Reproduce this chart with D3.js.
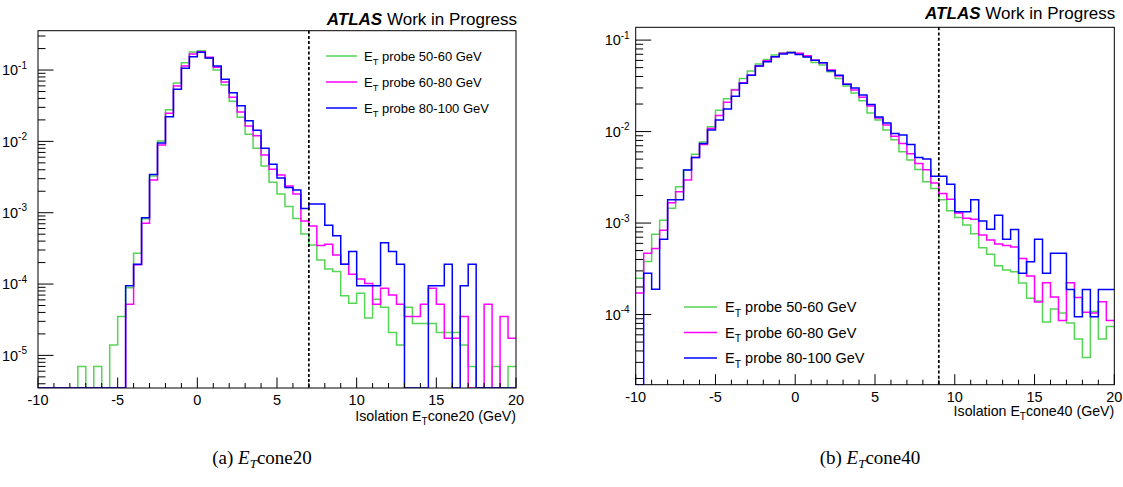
<!DOCTYPE html>
<html><head><meta charset="utf-8">
<script src="https://cdn.jsdelivr.net/npm/d3@7"></script>
<style>
body{margin:0;background:#fff}
svg{display:block}
text{font-family:"Liberation Sans",Arial,Helvetica,sans-serif;fill:#000}
</style>
</head><body>
<svg id="c" width="1123" height="487"></svg>
<script>
// ---------- data ----------
const binLow = d3.range(-10, 20, 0.5);   // 60 bins of 0.5 GeV
const binWidth = 0.5;
const seriesLabels = ["probe 50-60 GeV", "probe 60-80 GeV", "probe 80-100 GeV"];
const seriesColors = ["#55d455", "#ff00ff", "#0000ff"];
const xTickValues = [-10, -5, 0, 5, 10, 15, 20];

const cone20_50_60 = [0,0,0,0,0,7.0e-6,0,7.0e-6,0,1.4e-5,
  3.5e-5,8.9e-5,2.71e-4,8.2e-4,3.27e-3,1.01e-2,2.78e-2,6.58e-2,0.1265,0.1786,
  0.186,0.146,0.100,6.17e-2,3.65e-2,2.18e-2,1.26e-2,8.0e-3,4.52e-3,2.67e-3,
  1.83e-3,1.22e-3,8.3e-4,5.05e-4,3.54e-4,2.18e-4,1.63e-4,1.50e-4,6.84e-5,5.4e-5,
  7.46e-5,3.33e-5,6.14e-5,4.74e-5,2.1e-5,1.4e-5,4.74e-5,2.8e-5,2.8e-5,2.8e-5,
  2.1e-5,2.1e-5,2.1e-5,1.4e-5,7.0e-6,0,0,7.0e-6,0,7.0e-6];
const cone20_60_80 = [0,0,0,0,0,0,0,0,0,0,
  0,5.2e-5,1.86e-4,7.13e-4,2.88e-3,8.9e-3,2.48e-2,5.97e-2,0.1138,0.1675,
  0.180,0.151,0.109,6.79e-2,4.15e-2,2.58e-2,1.64e-2,1.20e-2,6.46e-3,4.06e-3,
  3.38e-3,2.37e-3,1.83e-3,7.67e-4,6.53e-4,3.46e-4,3.62e-4,2.56e-4,1.90e-4,1.37e-4,
  1.18e-4,1.02e-4,5.2e-5,8.7e-5,7.0e-5,5.2e-5,3.5e-5,3.5e-5,5.2e-5,8.7e-5,
  5.2e-5,1.74e-5,1.74e-5,3.5e-5,0,0,5.2e-5,0,3.5e-5,1.74e-5];
const cone20_80_100 = [0,0,0,0,0,0,0,0,0,0,
  0,9.5e-5,1.9e-4,8.5e-4,3.42e-3,9.5e-3,2.22e-2,5.37e-2,0.1057,0.1535,
  0.177,0.147,0.1138,7.41e-2,4.81e-2,3.16e-2,1.95e-2,1.43e-2,8.0e-3,4.78e-3,
  3.07e-3,2.25e-3,2.08e-3,1.15e-3,1.33e-3,1.33e-3,6.65e-4,4.75e-4,1.9e-4,2.85e-4,
  9.5e-5,9.5e-5,9.5e-5,3.8e-4,2.85e-4,1.9e-4,0,0,0,9.5e-5,
  9.5e-5,1.9e-4,0,9.5e-5,1.9e-4,0,0,0,0,0];

const cone40_50_60 = [2.49e-4,3.81e-4,7.53e-4,1.07e-3,1.45e-3,2.49e-3,3.79e-3,5.64e-3,7.67e-3,1.13e-2,
  1.71e-2,2.28e-2,2.88e-2,3.81e-2,4.58e-2,5.47e-2,6.15e-2,6.86e-2,7.26e-2,7.40e-2,
  7.12e-2,6.57e-2,5.70e-2,5.33e-2,4.51e-2,3.81e-2,3.14e-2,2.64e-2,2.17e-2,1.60e-2,
  1.34e-2,1.04e-2,8.13e-3,6.01e-3,4.89e-3,3.86e-3,2.83e-3,2.39e-3,1.80e-3,1.36e-3,
  1.15e-3,9.5e-4,7.66e-4,5.36e-4,4.55e-4,3.41e-4,3.06e-4,2.94e-4,2.21e-4,1.51e-4,
  1.41e-4,8.28e-5,1.15e-4,1.04e-4,8.07e-5,5.40e-5,3.39e-5,1.08e-4,5.40e-5,7.40e-5];
const cone40_60_80 = [1.72e-4,4.67e-4,5.28e-4,8.32e-4,1.67e-3,2.20e-3,2.95e-3,5.22e-3,7.21e-3,1.08e-2,
  1.50e-2,2.09e-2,2.84e-2,3.41e-2,4.14e-2,5.20e-2,5.94e-2,6.57e-2,7.16e-2,7.34e-2,
  7.16e-2,6.73e-2,6.04e-2,5.65e-2,4.70e-2,4.05e-2,3.30e-2,2.84e-2,2.37e-2,1.90e-2,
  1.41e-2,1.18e-2,8.87e-3,7.43e-3,5.72e-3,4.49e-3,3.83e-3,2.74e-3,2.11e-3,1.82e-3,
  1.29e-3,1.13e-3,1.10e-3,7.40e-4,6.52e-4,5.89e-4,5.68e-4,5.47e-4,4.09e-4,2.64e-4,
  1.37e-4,2.23e-4,1.55e-4,8.59e-5,2.23e-4,1.54e-4,1.06e-4,1.04e-4,1.38e-4,8.59e-5];
const cone40_80_100 = [0,2.82e-4,1.89e-4,6.64e-4,1.80e-3,1.80e-3,3.79e-3,5.22e-3,7.40e-3,1.04e-2,
  1.34e-2,1.76e-2,2.43e-2,3.37e-2,4.14e-2,5.20e-2,5.79e-2,6.57e-2,7.03e-2,7.26e-2,
  6.98e-2,6.52e-2,6.04e-2,5.65e-2,4.62e-2,4.14e-2,3.30e-2,2.99e-2,2.51e-2,1.98e-2,
  1.44e-2,1.24e-2,9.51e-3,9.16e-3,7.24e-3,5.22e-3,5.00e-3,3.24e-3,3.24e-3,2.65e-3,
  1.33e-3,1.33e-3,1.80e-3,1.05e-3,8.53e-4,1.22e-3,6.64e-4,8.5e-4,2.82e-4,3.78e-4,
  6.64e-4,2.82e-4,4.67e-4,4.67e-4,1.88e-4,9.46e-5,1.88e-4,9.46e-5,1.88e-4,1.88e-4];

const cutValues = [7, 9];
const axisTitles = ["cone20 (GeV)", "cone40 (GeV)"];
const captions = [["(a) ", "cone20"], ["(b) ", "cone40"]];
const headerBold = "ATLAS";
const headerText = " Work in Progress";

// ---------- layout ----------
const panels = [
  {series:[cone20_50_60, cone20_60_80, cone20_80_100], left:38, right:516, top:30.7, bottom:388,
   yDomain:[3.49e-6, 0.356], cut:cutValues[0], title:axisTitles[0], caption:captions[0],
   labelGap:11, headerY:24.5, titleY:421, captionX:262,
   legend:{x1:326, x2:357, tx:364, y0:56, dy:26, fs:13}},
  {series:[cone40_50_60, cone40_60_80, cone40_80_100], left:635.7, right:1114.3, top:27.3, bottom:384.7,
   yDomain:[1.71e-5, 0.138], cut:cutValues[1], title:axisTitles[1], caption:captions[1],
   labelGap:6, headerY:18.8, titleY:416, captionX:870,
   legend:{x1:684, x2:717, tx:725, y0:307, dy:25.5, fs:14.5}}
];

const svg = d3.select("#c");

panels.forEach((p, pi) => {
  const x = d3.scaleLinear().domain([-10, 20]).range([p.left, p.right]);
  const y = d3.scaleLog().domain(p.yDomain).range([p.bottom, p.top]);
  const g = svg.append("g");
  const clipId = "clip" + pi;
  svg.append("clipPath").attr("id", clipId).append("rect")
    .attr("x", p.left).attr("y", p.top).attr("width", p.right - p.left).attr("height", p.bottom - p.top);

  // histograms
  const yv = v => v > p.yDomain[0] ? y(v) : p.bottom;
  p.series.forEach((vals, si) => {
    let d = "";
    vals.forEach((v, i) => {
      const x0 = x(binLow[i]), x1 = x(binLow[i] + binWidth), yy = yv(v);
      d += (i === 0 ? `M${x0},${yy}` : `V${yy}`) + `H${x1}`;
    });
    g.append("path").attr("d", d).attr("fill", "none").attr("stroke", seriesColors[si])
      .attr("stroke-width", 1.5).attr("clip-path", `url(#${clipId})`);
  });

  // cut line
  g.append("line").attr("x1", x(p.cut)).attr("x2", x(p.cut)).attr("y1", p.top).attr("y2", p.bottom)
    .attr("stroke", "#000").attr("stroke-width", 1.7).attr("stroke-dasharray", "3,2.2");

  // frame
  g.append("rect").attr("x", p.left).attr("y", p.top).attr("width", p.right - p.left)
    .attr("height", p.bottom - p.top).attr("fill", "none").attr("stroke", "#000").attr("stroke-width", 1);

  // x axis ticks (inside, pointing up)
  const xMinor = d3.range(-10, 21, 1);
  xMinor.forEach(t => {
    const major = xTickValues.includes(t);
    g.append("line").attr("x1", x(t)).attr("x2", x(t)).attr("y1", p.bottom).attr("y2", p.bottom - (major ? 10.5 : 5))
      .attr("stroke", "#000").attr("stroke-width", 1);
  });
  xTickValues.forEach(t => {
    g.append("text").attr("x", x(t)).attr("y", p.bottom + 17).attr("text-anchor", "middle")
      .attr("font-size", 14.5).text(t);
  });

  // y axis ticks (inside, pointing right)
  const lo = Math.floor(Math.log10(p.yDomain[0])), hi = Math.ceil(Math.log10(p.yDomain[1]));
  for (let e = lo; e <= hi; e++) {
    for (let k = 1; k <= 9; k++) {
      const v = k * Math.pow(10, e);
      if (v < p.yDomain[0] || v > p.yDomain[1]) continue;
      g.append("line").attr("x1", p.left).attr("x2", p.left + (k === 1 ? 15.5 : 7.5))
        .attr("y1", y(v)).attr("y2", y(v)).attr("stroke", "#000").attr("stroke-width", 1);
      if (k === 1) {
        const t = g.append("text").attr("x", p.left - p.labelGap).attr("y", y(v) + 5.2)
          .attr("text-anchor", "end").attr("font-size", 14.5);
        t.append("tspan").text("10");
        t.append("tspan").attr("font-size", 10).attr("dy", -6.5).text(String(e));
      }
    }
  }

  // header
  const h = g.append("text").attr("x", p.right + 1).attr("y", p.headerY).attr("text-anchor", "end").attr("font-size", 17);
  h.append("tspan").attr("font-weight", "bold").attr("font-style", "italic").text(headerBold);
  h.append("tspan").text(headerText);

  // axis title
  const at = g.append("text").attr("x", p.right).attr("y", p.titleY).attr("text-anchor", "end").attr("font-size", 14.2);
  at.append("tspan").text("Isolation E");
  at.append("tspan").attr("font-size", 10).attr("dy", 4).text("T");
  at.append("tspan").attr("dy", -4).text(p.title);

  // legend
  const L = p.legend;
  seriesLabels.forEach((lab, si) => {
    const ly = L.y0 + si * L.dy;
    g.append("line").attr("x1", L.x1).attr("x2", L.x2).attr("y1", ly).attr("y2", ly)
      .attr("stroke", seriesColors[si]).attr("stroke-width", 1.5);
    const t = g.append("text").attr("x", L.tx).attr("y", ly + L.fs * 0.36).attr("font-size", L.fs);
    t.append("tspan").text("E");
    t.append("tspan").attr("font-size", L.fs * 0.72).attr("dy", L.fs * 0.3).text("T");
    t.append("tspan").attr("dy", -L.fs * 0.3).text(" " + lab);
  });

  // caption
  const c = svg.append("text").attr("x", p.captionX).attr("y", 464).attr("text-anchor", "middle")
    .attr("font-size", 19).style("font-family", '"Liberation Serif","DejaVu Serif",serif');
  c.append("tspan").text(p.caption[0]);
  c.append("tspan").attr("font-style", "italic").text("E");
  c.append("tspan").attr("font-style", "italic").attr("font-size", 13).attr("dy", 4).text("T");
  c.append("tspan").attr("dy", -4).text(p.caption[1]);
});
</script>
</body></html>
